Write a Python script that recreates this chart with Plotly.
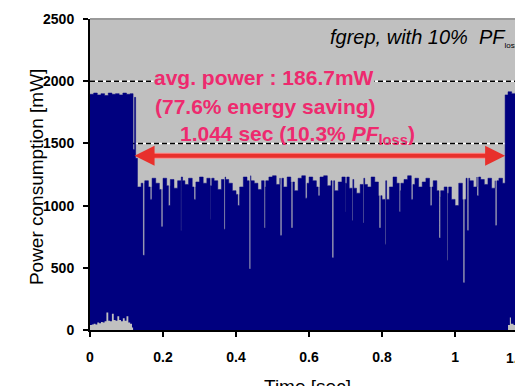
import bisect
import plotly.graph_objects as go

# ---------------- data ----------------
# upper envelope of the power trace: step profile (time [s], power [mW])
profile_t = [0.000, 0.010, 0.020, 0.030, 0.040, 0.050, 0.060, 0.070, 0.080, 0.090, 0.100, 0.110,
             0.118, 0.122, 0.125,
             0.13, 0.14, 0.15, 0.16, 0.17, 0.18, 0.19, 0.20, 0.21, 0.22, 0.23, 0.24, 0.25, 0.26,
             0.27, 0.28, 0.29, 0.30, 0.31, 0.32, 0.33, 0.34, 0.35, 0.36, 0.37, 0.38, 0.39, 0.40,
             0.41, 0.42, 0.43, 0.44, 0.45, 0.46, 0.47, 0.48, 0.49, 0.50, 0.51, 0.52, 0.53, 0.54,
             0.55, 0.56, 0.57, 0.58, 0.59, 0.60, 0.61, 0.62, 0.63, 0.64, 0.65, 0.66, 0.67, 0.68,
             0.69, 0.70, 0.71, 0.72, 0.73, 0.74, 0.75, 0.76, 0.77, 0.78, 0.79, 0.80, 0.81, 0.82,
             0.83, 0.84, 0.85, 0.86, 0.87, 0.88, 0.89, 0.90, 0.91, 0.92, 0.93, 0.94, 0.95, 0.96,
             0.97, 0.98, 0.99, 1.00, 1.01, 1.02, 1.03, 1.04, 1.05, 1.06, 1.07, 1.08, 1.09, 1.10,
             1.11, 1.12, 1.13,
             1.137, 1.145, 1.155, 1.165, 1.175, 1.19]
profile_mw = [1895, 1905, 1890, 1900, 1885, 1905, 1895, 1900, 1890, 1905, 1895, 1900,
              1450, 1870, 1380,
              1150, 1180, 1200, 1150, 1220, 1180, 1130, 1220, 1160, 1210, 1140, 1200, 1230, 1170,
              1220, 1150, 1190, 1230, 1180, 1220, 1160, 1200, 1130, 1210, 1230, 1180, 1120, 1090,
              1150, 1230, 1200, 1240, 1180, 1130, 1200, 1150, 1230, 1240, 1170, 1220, 1150, 1230,
              1190, 1120, 1220, 1240, 1180, 1230, 1200, 1150, 1230, 1240, 1160, 1200, 1120, 1190,
              1230, 1180, 1140, 1210, 1100, 1170, 1220, 1150, 1230, 1190, 1080, 1050, 1200, 1150,
              1230, 1180, 1120, 1210, 1240, 1170, 1220, 1150, 1190, 1220, 1150, 1200, 1120, 1070,
              1150, 1100, 1050, 1000, 1180, 1050, 1220, 1200, 1150, 1230, 1210, 1170, 1220, 1140,
              1200, 1220, 1180,
              1890, 1915, 1900, 1910, 1900, 1905]

# short downward spikes (time [s], minimum power [mW])
spike_t = [0.145, 0.165, 0.195, 0.215, 0.249, 0.285, 0.329, 0.367, 0.405, 0.436, 0.477, 0.521,
           0.551, 0.590, 0.625, 0.663, 0.699, 0.718, 0.748, 0.792, 0.808, 0.847, 0.880, 0.932,
           0.956, 0.978, 1.022, 1.033, 1.060, 1.110]
spike_mw = [600, 1050, 830, 1000, 800, 1050, 890, 810, 1000, 490, 820, 760,
            820, 1060, 1080, 580, 950, 880, 860, 820, 690, 950, 1050, 1000,
            740, 560, 380, 800, 1080, 840]

# low-level floor of the trace (gray gaps near 0 mW)
floor_left_t = [0.000, 0.005, 0.010, 0.015, 0.020, 0.025, 0.030, 0.035, 0.040, 0.045, 0.050,
                0.055, 0.060, 0.065, 0.070, 0.075, 0.080, 0.085, 0.090, 0.095, 0.100, 0.105,
                0.110, 0.115, 0.118]
floor_left_mw = [40, 45, 50, 45, 60, 55, 65, 60, 70, 140, 75, 70, 130, 80, 75, 110, 80, 70, 95,
                 75, 110, 60, 50, 20, 0]
floor_right_t = [1.140, 1.145, 1.150, 1.153, 1.160, 1.175, 1.19]
floor_right_mw = [0, 40, 100, 50, 40, 45, 40]

avg_power_mw = 2000      # dashed reference lines
pf_level_mw = 1500
arrow_mw = 1400
arrow_t = [0.118, 1.137]

x_ticks = [0, 0.2, 0.4, 0.6, 0.8, 1]
y_ticks = [0, 500, 1000, 1500, 2000, 2500]
x_last_tick = 1.2   # only partly visible at the right edge

# ---------------- build trace with spikes ----------------
SPIKE_W = 0.0045
pts = list(zip(profile_t, profile_mw))
for ts, vs in zip(spike_t, spike_mw):
    i = bisect.bisect_right(profile_t, ts) - 1
    back = profile_mw[i]
    pts.append((ts, vs))
    pts.append((ts + SPIKE_W, back))
pts.sort(key=lambda p: p[0])
xs = [p[0] for p in pts]
ys = [p[1] for p in pts]

NAVY = "#00007f"
BG = "#c0c0c0"
PINK = "#ee2a6e"
RED = "#e8302c"

fig = go.Figure()
fig.add_trace(go.Scatter(x=xs, y=ys, mode="lines", line=dict(color=NAVY, width=0.5, shape="hv"),
                         fill="tozeroy", fillcolor=NAVY, hoverinfo="skip"))
fig.add_trace(go.Scatter(x=floor_left_t, y=floor_left_mw, mode="lines",
                         line=dict(color=BG, width=0, shape="hv"),
                         fill="tozeroy", fillcolor=BG, hoverinfo="skip"))
fig.add_trace(go.Scatter(x=floor_right_t, y=floor_right_mw, mode="lines",
                         line=dict(color=BG, width=0, shape="hv"),
                         fill="tozeroy", fillcolor=BG, hoverinfo="skip"))

XMAX = 1.186
for lvl in (avg_power_mw, pf_level_mw):
    fig.add_shape(type="line", x0=0, x1=XMAX, y0=lvl, y1=lvl, xref="x", yref="y",
                  line=dict(color="white", width=1.5), layer="below")
    fig.add_shape(type="line", x0=0, x1=XMAX, y0=lvl, y1=lvl, xref="x", yref="y",
                  line=dict(color="black", width=1.5, dash="5px,3px"), layer="below")

# top border
fig.add_shape(type="line", x0=0, x1=1, y0=1, y1=1, xref="paper", yref="paper",
              line=dict(color="#9a9a9a", width=2))

# red double arrow
fig.add_shape(type="line", x0=arrow_t[0] + 0.02, x1=arrow_t[1] - 0.02, y0=arrow_mw, y1=arrow_mw,
              xref="x", yref="y", line=dict(color="#ff8a8a", width=6))
fig.add_annotation(x=arrow_t[1], y=arrow_mw, ax=arrow_t[0], ay=arrow_mw, xref="x", yref="y",
                   axref="x", ayref="y", text="", showarrow=True, arrowhead=2, startarrowhead=2,
                   arrowside="end+start", arrowsize=1, startarrowsize=1, arrowwidth=4,
                   arrowcolor=RED)

FONT = "Liberation Sans, Arial, sans-serif"
fig.add_annotation(x=0.477, y=2030, xref="x", yref="y", text="<b>avg. power : 186.7mW</b>",
                   showarrow=False, font=dict(family=FONT, size=21, color=PINK), bgcolor=BG,
                   borderpad=0)
fig.add_annotation(x=0.482, y=1800, xref="x", yref="y", text="<b>(77.6% energy saving)</b>",
                   showarrow=False, font=dict(family=FONT, size=21, color=PINK))
fig.add_annotation(x=0.567, y=1570, xref="x", yref="y",
                   text="<b>1.044 sec (10.3% <i>PF</i><sub>loss</sub>)</b>",
                   showarrow=False, font=dict(family=FONT, size=21, color=PINK))
fig.add_annotation(x=1.186, y=2350, xref="x", yref="y", xanchor="right", xshift=-2,
                   text="<i>fgrep, with 10%  PF</i><sub><span style='font-size:8px'>loss</span></sub>",
                   showarrow=False, font=dict(family=FONT, size=20, color="black"))

# axis titles
fig.add_annotation(x=0, y=0.49, xref="paper", yref="paper", xshift=-66, textangle=-90,
                   text="Power consumption [mW]", showarrow=False,
                   font=dict(family=FONT, size=19, color="black"))
fig.add_annotation(x=0.503, y=0, xref="paper", yref="paper", yshift=-56, yanchor="middle",
                   text="Time [sec]", showarrow=False,
                   font=dict(family=FONT, size=19, color="black"))
# partly visible last tick label
fig.add_annotation(x=x_last_tick / XMAX, y=0, xref="paper", yref="paper", yshift=-28,
                   yanchor="middle", text="<b>%g</b>" % x_last_tick, showarrow=False,
                   font=dict(family=FONT, size=14, color="black"))

# the page body has an 8px margin, so the figure is drawn 8px in from the top-left corner
fig.update_layout(
    width=515, height=378,
    margin=dict(l=82, r=0, t=11, b=56),
    paper_bgcolor="white", plot_bgcolor=BG,
    showlegend=False,
    font=dict(family=FONT, color="black"),
)
fig.update_xaxes(range=[0, XMAX], tickvals=x_ticks, ticktext=["<b>%g</b>" % v for v in x_ticks],
                 showgrid=False, zeroline=False, showline=True, linecolor="black", linewidth=2,
                 ticks="outside", ticklen=5, tickwidth=1.5, tickcolor="black",
                 tickfont=dict(family=FONT, size=14), ticklabelstandoff=8)
fig.update_yaxes(range=[0, 2500], tickvals=y_ticks, ticktext=["<b>%d</b>" % v for v in y_ticks],
                 showgrid=False, zeroline=False, showline=True, linecolor="black", linewidth=2,
                 ticks="outside", ticklen=5, tickwidth=1.5, tickcolor="black",
                 tickfont=dict(family=FONT, size=14), ticklabelstandoff=6)

fig.write_html("out.html")
